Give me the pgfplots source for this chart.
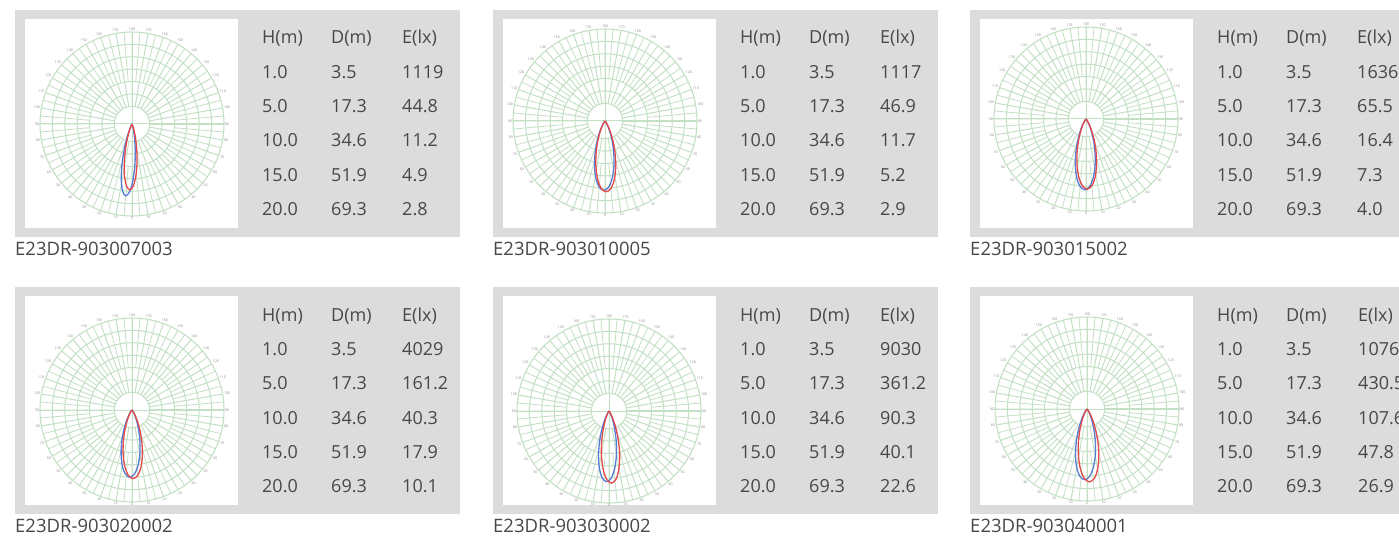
\documentclass[border=0pt]{standalone}
\usepackage{fontspec}
\setmainfont{Open Sans}
\usepackage{pgfplots}
\pgfplotsset{compat=1.18}
\usepackage{pgfplotstable}
\usepgfplotslibrary{polar}
\definecolor{bggray}{RGB}{220,220,220}
\definecolor{txt}{RGB}{72,72,72}
\definecolor{gridgreen}{RGB}{196,224,196}
\definecolor{lred}{RGB}{228,72,72}
\definecolor{lblue}{RGB}{84,124,212}

\pgfplotstableread[row sep=\\]{a r\\ 0 0.25\\ 10 0.25\\ 20 0.25\\ 30 0.25\\ 40 0.25\\ 50 0.25\\ 60 0.25\\ 70 0.25\\ 80 0.25\\ 90 0.25\\ 100 0.25\\ 110 0.25\\ 120 0.25\\ 130 0.25\\ 140 0.25\\ 150 0.25\\ 160 0.25\\ 170 0.25\\ 180 0.25\\ 190 0.25\\ 200 0.25\\ 210 0.25\\ 220 0.25\\ 230 0.25\\ 240 0.25\\ 250 0.25\\ 260 0.25\\ 270 0.25\\ 280 0.25\\ 290 0.25\\ 300 0.25\\ 310 0.25\\ 320 0.25\\ 330 0.25\\ 340 0.25\\ 350 0.25\\ 360 0.25\\}\holetab

\pgfplotstableread[row sep=\\]{a r\\
5 0.6\\ 5 1.3\\ nan nan\\ 15 0.6\\ 15 1.3\\ nan nan\\ 25 0.6\\ 25 1.3\\ nan nan\\ 35 0.6\\ 35 1.3\\ nan nan\\
45 0.6\\ 45 1.3\\ nan nan\\ 55 0.6\\ 55 1.3\\ nan nan\\ 65 0.6\\ 65 1.3\\ nan nan\\ 75 0.6\\ 75 1.3\\ nan nan\\
85 0.6\\ 85 1.3\\ nan nan\\ 95 0.6\\ 95 1.3\\ nan nan\\ 105 0.6\\ 105 1.3\\ nan nan\\ 115 0.6\\ 115 1.3\\ nan nan\\
125 0.6\\ 125 1.3\\ nan nan\\ 135 0.6\\ 135 1.3\\ nan nan\\ 145 0.6\\ 145 1.3\\ nan nan\\ 155 0.6\\ 155 1.3\\ nan nan\\
165 0.6\\ 165 1.3\\ nan nan\\ 175 0.6\\ 175 1.3\\ nan nan\\ 185 0.6\\ 185 1.3\\ nan nan\\ 195 0.6\\ 195 1.3\\ nan nan\\
205 0.6\\ 205 1.3\\ nan nan\\ 215 0.6\\ 215 1.3\\ nan nan\\ 225 0.6\\ 225 1.3\\ nan nan\\ 235 0.6\\ 235 1.3\\ nan nan\\
245 0.6\\ 245 1.3\\ nan nan\\ 255 0.6\\ 255 1.3\\ nan nan\\ 265 0.6\\ 265 1.3\\ nan nan\\ 275 0.6\\ 275 1.3\\ nan nan\\
285 0.6\\ 285 1.3\\ nan nan\\ 295 0.6\\ 295 1.3\\ nan nan\\ 305 0.6\\ 305 1.3\\ nan nan\\ 315 0.6\\ 315 1.3\\ nan nan\\
325 0.6\\ 325 1.3\\ nan nan\\ 335 0.6\\ 335 1.3\\ nan nan\\ 345 0.6\\ 345 1.3\\ nan nan\\ 355 0.6\\ 355 1.3\\}\spokes

\pgfplotsset{pol/.style={scale only axis, width=184bp, height=184bp, anchor=center,
  xmin=0, xmax=360, ymin=0, ymax=1.3,
  xtick={0,10,...,350},
  xticklabels={90,100,110,120,130,140,150,160,170,180,170,160,150,140,130,120,110,100,90,80,70,60,50,40,30,20,10,0,10,20,30,40,50,60,70,80},
  ytick={0.425,0.6,0.775,0.95,1.125}, yticklabels={},
  grid=major, major grid style={draw=gridgreen, line width=1bp},
  axis line style={draw=gridgreen, line width=1.1bp},
  tick style={draw=none},
  xticklabel style={font=\fontsize{3.5bp}{4bp}\selectfont, text=black!45, inner sep=1pt},
  clip=false}}

\newcommand{\polbase}{%
  \addplot[draw=gridgreen, line width=0.8bp, unbounded coords=jump] table[x=a,y=r] {\spokes};
  \addplot[draw=gridgreen, fill=white, line width=1bp] table[x=a,y=r] {\holetab};
  \addplot[draw=gridgreen, line width=1bp] coordinates {(0,1.3) (180,1.3)};
  \addplot[draw=gridgreen, line width=1bp] coordinates {(90,1.3) (270,1.3)};
}

\tikzset{tab/.style={anchor=base west, inner sep=0pt, text=txt, font=\fontsize{18bp}{20bp}\selectfont},
  lab/.style={anchor=base west, inner sep=0pt, text=txt, font=\fontsize{18.5bp}{20bp}\selectfont},
  lobered/.style={draw=lred, line width=1.3bp, smooth},
  lobeblue/.style={draw=lblue, line width=1.3bp, smooth}}

% #1 x0, #2 ytop, #3 E column offset, #4-#8 E values, #9 label
\newcommand{\panel}[9]{%
  \fill[bggray] (#1,#2) rectangle (#1+445,#2+227);
  \fill[white] (#1+10,#2+9) rectangle (#1+223,#2+218);
  \node[tab] at (#1+247,#2+34) {H(m)};
  \node[tab] at (#1+316,#2+34) {D(m)};
  \node[tab] at (#1+#3,#2+34) {E(lx)};
  \node[tab] at (#1+247,#2+68.3) {1.0};
  \node[tab] at (#1+247,#2+102.6) {5.0};
  \node[tab] at (#1+247,#2+137) {10.0};
  \node[tab] at (#1+247,#2+171.3) {15.0};
  \node[tab] at (#1+247,#2+205.6) {20.0};
  \node[tab] at (#1+316,#2+68.3) {3.5};
  \node[tab] at (#1+316,#2+102.6) {17.3};
  \node[tab] at (#1+316,#2+137) {34.6};
  \node[tab] at (#1+316,#2+171.3) {51.9};
  \node[tab] at (#1+316,#2+205.6) {69.3};
  \node[tab] at (#1+#3,#2+68.3) {#4};
  \node[tab] at (#1+#3,#2+102.6) {#5};
  \node[tab] at (#1+#3,#2+137) {#6};
  \node[tab] at (#1+#3,#2+171.3) {#7};
  \node[tab] at (#1+#3,#2+205.6) {#8};
  \node[lab] at (#1,#2+245.5) {#9};
}

\begin{document}
\begin{tikzpicture}[x=1bp,y=-1bp]
\path[use as bounding box, clip] (0,0) rectangle (1399,536);
\fill[white] (0,0) rectangle (1399,536);

\panel{15}{10}{387}{1119}{44.8}{11.2}{4.9}{2.8}{E23DR-903007003}
\panel{493}{10}{387}{1117}{46.9}{11.7}{5.2}{2.9}{E23DR-903010005}
\panel{970}{10}{387}{1636}{65.5}{16.4}{7.3}{4.0}{E23DR-903015002}
\panel{15}{287}{387}{4029}{161.2}{40.3}{17.9}{10.1}{E23DR-903020002}
\panel{493}{287}{387}{9030}{361.2}{90.3}{40.1}{22.6}{E23DR-903030002}
\panel{970}{287}{388}{10761}{430.5}{107.6}{47.8}{26.9}{E23DR-903040001}

\coordinate (c1) at (132,124);
\coordinate (c2) at (605,121);
\coordinate (c3) at (1086,119);
\coordinate (c4) at (132,410);
\coordinate (c5) at (609,411);
\coordinate (c6) at (1087,409);

% Panel 1
\begin{polaraxis}[pol, at={(c1)}]
\polbase
\addplot[lobeblue] coordinates {(235,0)(238,0.006)(241,0.018)(244,0.048)(247,0.108)(250,0.214)(253,0.375)(256,0.581)(259,0.794)(262,0.958)(265,1.02)(268,0.958)(271,0.794)(274,0.581)(277,0.375)(280,0.214)(283,0.108)(286,0.048)(289,0.018)(292,0.006)(295,0)};
\addplot[lobered] coordinates {(238,0)(241,0.013)(244,0.031)(247,0.068)(250,0.137)(253,0.246)(256,0.397)(259,0.576)(262,0.751)(265,0.882)(268,0.93)(271,0.882)(274,0.751)(277,0.576)(280,0.397)(283,0.246)(286,0.137)(289,0.068)(292,0.031)(295,0.013)(298,0)};
\end{polaraxis}

% Panel 2
\begin{polaraxis}[pol, at={(c2)}]
\polbase
\addplot[lobeblue] coordinates {(221,0)(225,0.005)(229,0.012)(233,0.027)(237,0.058)(241,0.112)(245,0.199)(249,0.323)(253,0.482)(257,0.658)(261,0.821)(265,0.938)(269,0.98)(273,0.938)(277,0.821)(281,0.658)(285,0.482)(289,0.323)(293,0.199)(297,0.112)(301,0.058)(305,0.027)(309,0.012)(313,0.005)(317,0)};
\addplot[lobered] coordinates {(223,0)(227,0.005)(231,0.012)(235,0.028)(239,0.059)(243,0.114)(247,0.203)(251,0.330)(255,0.492)(259,0.671)(263,0.838)(267,0.957)(271,1.0)(275,0.957)(279,0.838)(283,0.671)(287,0.492)(291,0.330)(295,0.203)(299,0.114)(303,0.059)(307,0.028)(311,0.012)(315,0.005)(319,0)};
\end{polaraxis}

% Panel 3
\begin{polaraxis}[pol, at={(c3)}]
\polbase
\addplot[lobeblue] coordinates {(221,0)(225,0.005)(229,0.012)(233,0.028)(237,0.059)(241,0.114)(245,0.203)(249,0.330)(253,0.492)(257,0.671)(261,0.838)(265,0.957)(269,1.0)(273,0.957)(277,0.838)(281,0.671)(285,0.492)(289,0.330)(293,0.203)(297,0.114)(301,0.059)(305,0.028)(309,0.012)(313,0.005)(317,0)};
\addplot[lobered] coordinates {(223,0)(227,0.005)(231,0.012)(235,0.028)(239,0.058)(243,0.113)(247,0.201)(251,0.327)(255,0.487)(259,0.664)(263,0.830)(267,0.947)(271,0.99)(275,0.947)(279,0.830)(283,0.664)(287,0.487)(291,0.327)(295,0.201)(299,0.113)(303,0.058)(307,0.028)(311,0.012)(315,0.005)(319,0)};
\end{polaraxis}

% Panel 4
\begin{polaraxis}[pol, at={(c4)}]
\polbase
\addplot[lobeblue] coordinates {(220,0)(224,0.005)(228,0.011)(232,0.027)(236,0.056)(240,0.108)(244,0.193)(248,0.314)(252,0.467)(256,0.637)(260,0.796)(264,0.909)(268,0.95)(272,0.909)(276,0.796)(280,0.637)(284,0.467)(288,0.314)(292,0.193)(296,0.108)(300,0.056)(304,0.027)(308,0.011)(312,0.005)(316,0)};
\addplot[lobered] coordinates {(223,0)(227,0.005)(231,0.012)(235,0.027)(239,0.057)(243,0.111)(247,0.197)(251,0.320)(255,0.477)(259,0.651)(263,0.813)(267,0.928)(271,0.97)(275,0.928)(279,0.813)(283,0.651)(287,0.477)(291,0.320)(295,0.197)(299,0.111)(303,0.057)(307,0.027)(311,0.012)(315,0.005)(319,0)};
\end{polaraxis}

% Panel 5
\begin{polaraxis}[pol, at={(c5)}]
\polbase
\addplot[lobeblue] coordinates {(224,0)(228,0.004)(232,0.011)(236,0.029)(240,0.066)(244,0.136)(248,0.251)(252,0.412)(256,0.608)(260,0.801)(264,0.946)(268,1.0)(272,0.946)(276,0.801)(280,0.608)(284,0.412)(288,0.251)(292,0.136)(296,0.066)(300,0.029)(304,0.011)(308,0.004)(312,0)};
\addplot[lobered] coordinates {(228,0)(232,0.004)(236,0.011)(240,0.030)(244,0.067)(248,0.139)(252,0.256)(256,0.420)(260,0.620)(264,0.817)(268,0.965)(272,1.02)(276,0.965)(280,0.817)(284,0.620)(288,0.420)(292,0.256)(296,0.139)(300,0.067)(304,0.030)(308,0.011)(312,0.004)(316,0)};
\end{polaraxis}

% Panel 6
\begin{polaraxis}[pol, at={(c6)}]
\polbase
\addplot[lobeblue] coordinates {(220,0)(224,0.005)(228,0.012)(232,0.028)(236,0.059)(240,0.114)(244,0.203)(248,0.330)(252,0.492)(256,0.671)(260,0.838)(264,0.957)(268,1.0)(272,0.957)(276,0.838)(280,0.671)(284,0.492)(288,0.330)(292,0.203)(296,0.114)(300,0.059)(304,0.028)(308,0.012)(312,0.005)(316,0)};
\addplot[lobered] coordinates {(224,0)(228,0.005)(232,0.012)(236,0.029)(240,0.061)(244,0.117)(248,0.209)(252,0.340)(256,0.507)(260,0.691)(264,0.863)(268,0.986)(272,1.03)(276,0.986)(280,0.863)(284,0.691)(288,0.507)(292,0.340)(296,0.209)(300,0.117)(304,0.061)(308,0.029)(312,0.012)(316,0.005)(320,0)};
\end{polaraxis}
\end{tikzpicture}
\end{document}
